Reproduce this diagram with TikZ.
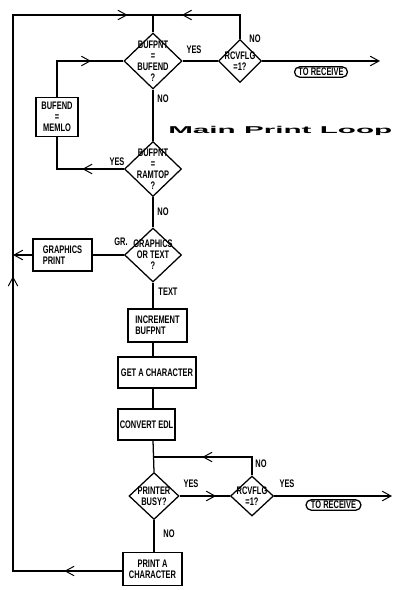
\documentclass[tikz,border=0pt]{standalone}
\usepackage{fontspec}
\usepackage{graphicx}
\usetikzlibrary{shapes.geometric,shapes.misc,arrows.meta,decorations.markings}
\newfontfamily\flow[FakeStretch=0.68]{Liberation Sans}
\newfontfamily\titlefont{Liberation Sans}
\tikzset{
  barb/.tip={Straight Barb[length=2.2mm,width=2.4mm,line width=0.7pt]},
  px/.style={x=0.25mm,y=-0.25mm},
  ln/.style={line width=0.9pt},
  decis/.style={diamond,draw,line width=0.9pt,inner sep=0pt,minimum width=#1},
  boxx/.style={rectangle,draw,line width=0.9pt,inner sep=0pt,font=\flow\bfseries\fontsize{7.8}{7.9}\selectfont},
  txt/.style={font=\flow\bfseries\fontsize{7.8}{7.9}\selectfont,inner sep=0pt,align=center},
  recvbox/.style={rounded rectangle,draw,line width=0.9pt,inner sep=0pt,font=\flow\bfseries\fontsize{7.8}{7.9}\selectfont},
  markarr/.style={postaction={decorate,decoration={markings,mark=at position #1 with {\arrow{barb}}}}},
}
\begin{document}
\begin{tikzpicture}[px]
\useasboundingbox (0,0) rectangle (400,590);
% decisions
\node[decis=14.5mm,minimum height=14mm] (d1) at (153,61) {};
\node[txt] (d1t) at (d1.center) {BUFPNT\\=\\BUFEND\\?};
\node[decis=10.75mm,minimum height=10.75mm] (r1) at (240,61) {};
\node[txt] (r1t) at (r1.center) {RCVFLG\\=1?};
\node[decis=14.25mm,minimum height=13.75mm] (d2) at (153,169) {};
\node[txt] (d2t) at (d2.center) {BUFPNT\\=\\RAMTOP\\?};
\node[decis=14.25mm,minimum height=13.5mm] (d3) at (153,255) {};
\node[txt] (d3t) at (d3.center) {GRAPHICS\\OR TEXT\\?};
\node[decis=12.5mm,minimum height=11.75mm] (pb) at (154,496) {};
\node[txt] (pbt) at (pb.center) {PRINTER\\BUSY?};
\node[decis=10.75mm,minimum height=10mm] (r2) at (252,496) {};
\node[txt] (r2t) at (r2.center) {RCVFLG\\=1?};
% boxes
\node[boxx,minimum width=10.5mm,minimum height=9.75mm,align=center] (memlo) at (57,117) {BUFEND\\=\\MEMLO};
\node[boxx,minimum width=14.75mm,minimum height=8mm,align=left] (gp) at (62.5,255) {GRAPHICS\\PRINT\hphantom{ICS}};
\node[boxx,minimum width=14.75mm,minimum height=8.25mm,align=left] (inc) at (157.5,325.5) {INCREMENT\\BUFPNT\hphantom{NT}};
\node[boxx,minimum width=19.5mm,minimum height=7.75mm] (gac) at (157,372.5) {GET A CHARACTER};
\node[boxx,minimum width=14.25mm,minimum height=7.75mm] (conv) at (146.5,424.5) {CONVERT EDL};
\node[boxx,minimum width=14.75mm,minimum height=8.25mm,align=center] (pc) at (152.5,569) {PRINT A\\CHARACTER};
\node[recvbox,minimum width=13.25mm,minimum height=2.6mm] (rc1) at (321,72) {TO RECEIVE};
\node[recvbox,minimum width=13.75mm,minimum height=2.6mm] (rc2) at (333.5,505) {TO RECEIVE};
% coordinates
\coordinate (top) at (153,15);
\coordinate (e1) at (380,61);
\coordinate (e2) at (392,496);
\coordinate (jn) at (153,457);
% connectors
\draw[ln,markarr=14.5mm,markarr=101mm,markarr=195mm] (pc.west |- 0,571) -- (13,571) -- (13,15) -- (top) -- (d1.north);
\draw[ln,markarr=20.5mm] (r1.north) -- (r1.north |- top) -- (top);
\draw[ln] (d1.east) -- (r1.west);
\draw[ln,-{barb}] (r1.east) -- (e1);
\draw[ln,markarr=10.4mm] (d2.west) -- (57,169) -- (memlo.south);
\draw[ln,markarr=17.5mm] (memlo.north) -- (57,61) -- (d1.west);
\draw[ln] (d1.south) -- (d2.north);
\draw[ln] (d2.south) -- (d3.north);
\draw[ln] (d3.west) -- (gp.east);
\draw[ln,-{barb}] (gp.west) -- (13,255);
\draw[ln] (d3.south) -- (d3.south |- inc.north);
\draw[ln] (inc.south -| 153,0) -- (gac.north -| 153,0);
\draw[ln] (gac.south -| 153,0) -- (conv.north -| 153,0);
\draw[ln] (conv.south -| 153,0) -- (pb.north);
\draw[ln,markarr=17mm] (r2.north) -- (r2.north |- jn) -- (jn);
\draw[ln,markarr=9.1mm] (pb.east) -- (r2.west);
\draw[ln,-{barb}] (r2.east) -- (e2);
\draw[ln] (pb.south) -- (pb.south |- pc.north);
% labels
\node[txt] (l1) at (194,50) {YES};
\node[txt] (l2) at (255,39) {NO};
\node[txt] (l3) at (163,99) {NO};
\node[txt] (l4) at (117,162) {YES};
\node[txt] (l5) at (163,212) {NO};
\node[txt] (l6) at (121,242) {GR.};
\node[txt] (l7) at (168,292) {TEXT};
\node[txt] (l8) at (261,464) {NO};
\node[txt] (l9) at (191,484) {YES};
\node[txt] (l10) at (287,484) {YES};
\node[txt] (l11) at (169,534) {NO};
\node[inner sep=0pt,anchor=base west] (title) at (168,133) {\resizebox{56mm}{1.8mm}{\titlefont\bfseries Main Print Loop}};
\end{tikzpicture}
\end{document}
